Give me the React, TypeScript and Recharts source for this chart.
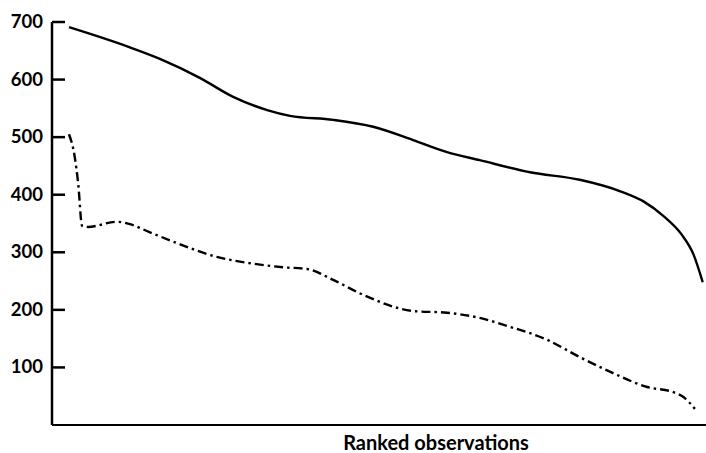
import { LineChart, Line, XAxis, YAxis, Label } from 'recharts'

// rank position (0-100 along the axis) and value for each curve
const solidRank = [2.6, 11.9, 16.5, 22.6, 27.7, 32.9, 36.4, 43.0, 49.1, 55.2, 60.4, 65.4, 73.1, 80.7, 86.9, 90.5, 93.6, 96.2, 98.1, 99.5]
const solidValue = [691, 656, 636, 603, 570, 547, 537, 530, 518, 495, 474, 460, 439, 426, 406, 388, 362, 332, 296, 248]

const dashRank = [2.6, 3.5, 4.0, 4.6, 5.5, 9.9, 11.9, 14.9, 19.1, 25.2, 30.3, 35.3, 39.0, 43.0, 47.6, 55.2, 60.4, 65.4, 69.6, 75.7, 80.7, 85.8, 91.0, 95.0, 96.5, 98.3]
const dashValue = [505, 464, 420, 346, 344, 353, 349, 335, 316, 292, 281, 274, 271, 252, 226, 198, 195, 186, 172, 148, 118, 90, 66, 57, 49, 28]

const yTicks = [100, 200, 300, 400, 500, 600, 700]

const solidData = solidRank.map((r, i) => ({ rank: r, value: solidValue[i] }))
const dashData = dashRank.map((r, i) => ({ rank: r, value: dashValue[i] }))

const font = 'Lato, "DejaVu Sans", sans-serif'

function YTick(props: any) {
  const { x, y, payload } = props
  return (
    <g>
      <line x1={x} x2={x + 13} y1={y} y2={y} stroke="#000" strokeWidth={2.5} />
      <text
        x={x - 9}
        y={y}
        dy={6}
        textAnchor="end"
        fontFamily={font}
        fontWeight={700}
        fontSize={18.5}
        fill="#000"
      >
        {payload.value}
      </text>
    </g>
  )
}

export default function App() {
  return (
    <div style={{ position: 'absolute', left: 0, top: 0, width: 706, height: 453, background: '#fff' }}>
      <LineChart width={706} height={453} margin={{ top: 22, right: 0, bottom: 0, left: 0 }}>
        <XAxis
          type="number"
          dataKey="rank"
          domain={[0, 100]}
          height={28}
          tick={false}
          tickLine={false}
          axisLine={{ stroke: '#000', strokeWidth: 2.2 }}
        >
          <Label
            value="Ranked observations"
            position="insideBottom"
            offset={3}
            dx={57}
            style={{ fontFamily: font, fontWeight: 700, fontSize: 20, fill: '#000' }}
          />
        </XAxis>
        <YAxis
          type="number"
          domain={[0, 700]}
          ticks={yTicks}
          width={52}
          tickSize={0}
          tickMargin={0}
          tickLine={false}
          tick={<YTick />}
          axisLine={{ stroke: '#000', strokeWidth: 2.5 }}
        />
        <Line
          data={solidData}
          dataKey="value"
          type="monotone"
          stroke="#000"
          strokeWidth={2.4}
          dot={false}
          isAnimationActive={false}
        />
        <Line
          data={dashData}
          dataKey="value"
          type="monotone"
          stroke="#000"
          strokeWidth={2.4}
          strokeDasharray="9 4 2.5 4"
          dot={false}
          isAnimationActive={false}
        />
      </LineChart>
    </div>
  )
}
